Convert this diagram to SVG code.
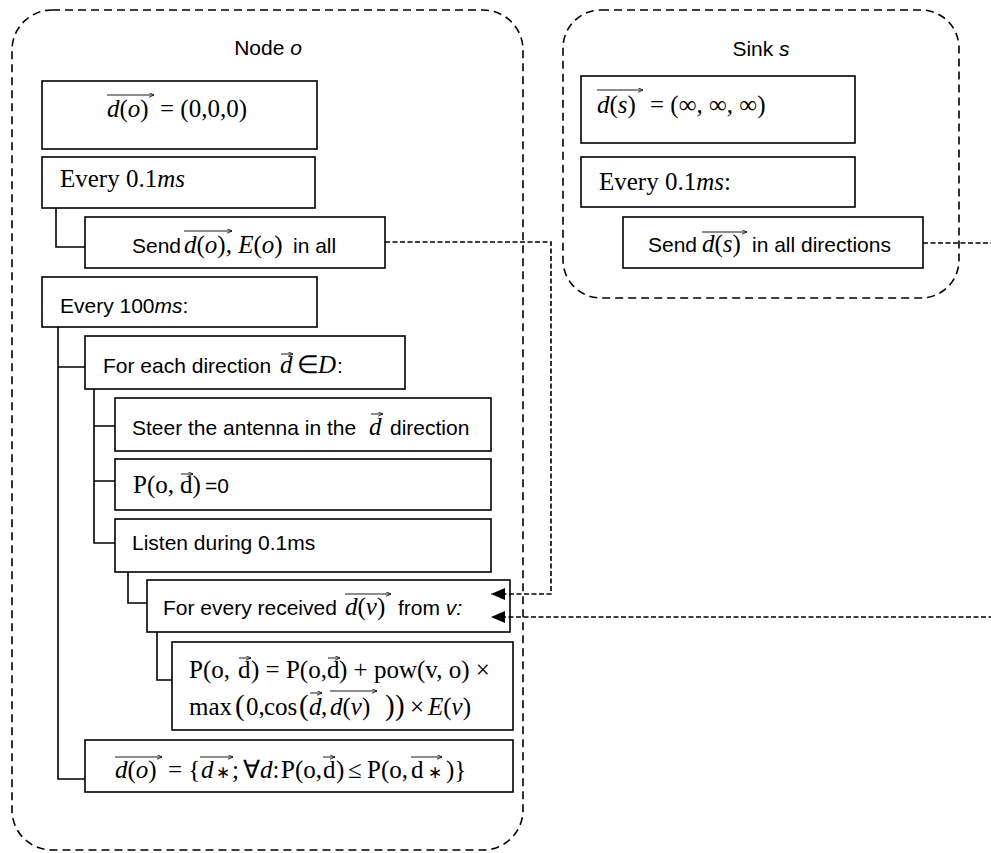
<svg xmlns="http://www.w3.org/2000/svg" width="991" height="853" viewBox="0 0 991 853">
<style>
.bg{fill:#fff}
.grp{fill:none;stroke:#000;stroke-width:1.6;stroke-dasharray:8 5}
.box{fill:#fff;stroke:#000;stroke-width:1.6}
.tree{fill:none;stroke:#000;stroke-width:1.6}
.flow{fill:none;stroke:#000;stroke-width:1.6;stroke-dasharray:5 2.5;marker-end:url(#ah)}
.s{font-family:"Liberation Sans",Arial,sans-serif;font-size:21px;fill:#000}
.m{font-family:"Liberation Serif","Times New Roman",serif;font-size:25px;fill:#000}
.i{font-style:italic}
.big{font-size:29px}
.ast{font-size:17px}
.vec{fill:none;stroke:#000;stroke-width:0.9;marker-end:url(#vh)}
</style>
<defs>
<marker id="ah" markerUnits="userSpaceOnUse" markerWidth="15" markerHeight="13" refX="14" refY="6" orient="auto">
<path d="M0,0 L14,6 L0,12 z" fill="#000"/>
</marker>
<marker id="vh" markerUnits="userSpaceOnUse" markerWidth="6" markerHeight="6" refX="5.5" refY="2.5" orient="auto">
<path d="M0,0 L5.5,2.5 L0,5" fill="none" stroke="#000" stroke-width="0.8"/>
</marker>
</defs>
<rect class="bg" x="0" y="0" width="991" height="853"/>

<g id="node-o-container">
<rect class="grp" x="12" y="10" width="511" height="840" rx="40" ry="40"/>
<text class="s" x="268" y="55" text-anchor="middle">Node <tspan class="i">o</tspan></text>
</g>
<g id="sink-s-container">
<rect class="grp" x="563" y="10" width="396" height="288" rx="38" ry="38"/>
<text class="s" x="761" y="56" text-anchor="middle">Sink <tspan class="i">s</tspan></text>
</g>

<g id="n1">
<rect class="box" x="42" y="81" width="275" height="68"/>
<text class="m" y="117"><tspan x="107" class="i">d</tspan>(<tspan class="i">o</tspan>)<tspan x="160">= (0,0,0)</tspan></text>
<path class="vec" d="M107,95 H154"/>
</g>
<g id="n2">
<rect class="box" x="42" y="157" width="273" height="51"/>
<text class="m" x="60" y="187">Every 0.1<tspan class="i">ms</tspan></text>
</g>
<g id="n3">
<rect class="box" x="85" y="217" width="300" height="51"/>
<text class="s" x="132" y="253">Send</text>
<text class="m" x="184" y="253"><tspan class="i">d</tspan>(<tspan class="i">o</tspan>), <tspan class="i">E</tspan>(<tspan class="i">o</tspan>)</text>
<text class="s" x="293" y="253">in all</text>
<path class="vec" d="M184,231 H232"/>
</g>
<g id="n4">
<rect class="box" x="42" y="277" width="275" height="50"/>
<text class="s" x="60" y="313">Every 100<tspan class="i">ms</tspan>:</text>
</g>
<g id="n5">
<rect class="box" x="85" y="336" width="320" height="53"/>
<text class="s" x="103" y="373">For each direction</text>
<text class="m" y="373"><tspan x="280" class="i">d</tspan><tspan x="297">∈</tspan><tspan x="318" class="i">D</tspan></text>
<text class="s" x="337" y="373">:</text>
<path class="vec" d="M281,354 H293"/>
</g>
<g id="n6">
<rect class="box" x="115" y="398" width="376" height="53"/>
<text class="s" x="132" y="435">Steer the antenna in the</text>
<text class="m i" x="369" y="435">d</text>
<text class="s" x="390" y="435">direction</text>
<path class="vec" d="M371,414 H383"/>
</g>
<g id="n7">
<rect class="box" x="115" y="459" width="376" height="51"/>
<text class="m" x="133" y="493">P(o, <tspan x="180">d</tspan>)</text>
<text class="s" x="205" y="493">=0</text>
<path class="vec" d="M181,474 H193"/>
</g>
<g id="n8">
<rect class="box" x="115" y="519" width="376" height="53"/>
<text class="s" x="132" y="550">Listen during 0.1ms</text>
</g>
<g id="n9">
<rect class="box" x="147" y="580" width="363" height="52"/>
<text class="s" x="163" y="615">For every received</text>
<text class="m" x="345" y="615"><tspan class="i">d</tspan>(<tspan class="i">v</tspan>)</text>
<text class="s" x="398" y="615">from <tspan class="i">v:</tspan></text>
<path class="vec" d="M345,594 H391"/>
</g>
<g id="n10">
<rect class="box" x="172" y="642" width="341" height="88"/>
<text class="m" y="678"><tspan x="189">P(o,</tspan><tspan x="238">d</tspan><tspan x="251">) = P(o,</tspan><tspan x="327">d</tspan><tspan x="339">) + pow(v, o) ×</tspan></text>
<path class="vec" d="M239,658 H251"/>
<path class="vec" d="M328,658 H340"/>
<text class="m" y="715"><tspan x="189">max</tspan><tspan x="235" class="big">(</tspan><tspan x="246">0,</tspan><tspan x="264">cos</tspan><tspan x="299" class="big">(</tspan><tspan x="309" class="i">d</tspan><tspan x="321">,</tspan><tspan x="330" class="i">d</tspan>(<tspan class="i">v</tspan>)<tspan x="385" class="big">)</tspan><tspan x="395" class="big">)</tspan><tspan x="410">×</tspan><tspan x="428" class="i">E</tspan>(<tspan class="i">v</tspan>)</text>
<path class="vec" d="M310,693 H322"/>
<path class="vec" d="M330,691 H377"/>
</g>
<g id="n11">
<rect class="box" x="85" y="740" width="428" height="52"/>
<text class="m" y="778"><tspan x="115" class="i">d</tspan>(<tspan class="i">o</tspan>)<tspan x="168">= {</tspan><tspan x="201" class="i">d</tspan><tspan x="216" class="ast">∗</tspan><tspan x="232">;</tspan><tspan x="243">∀</tspan><tspan class="i">d</tspan>:<tspan x="281">P(o,</tspan><tspan x="323">d</tspan><tspan x="336">)</tspan><tspan x="348">≤</tspan><tspan x="367">P(o,</tspan><tspan x="411">d</tspan><tspan x="428" class="ast">∗</tspan><tspan x="446">)}</tspan></text>
<path class="vec" d="M115,757 H162"/>
<path class="vec" d="M200,757 H233"/>
<path class="vec" d="M323,757 H335"/>
<path class="vec" d="M411,757 H442"/>
</g>

<g id="s1">
<rect class="box" x="581" y="76" width="274" height="67"/>
<text class="m" y="113"><tspan x="597" class="i">d</tspan>(<tspan class="i">s</tspan>)<tspan x="650">= (∞, ∞, ∞)</tspan></text>
<path class="vec" d="M597,90 H643"/>
</g>
<g id="s2">
<rect class="box" x="581" y="157" width="274" height="50"/>
<text class="m" x="599" y="190">Every 0.1<tspan class="i">ms</tspan>:</text>
</g>
<g id="s3">
<rect class="box" x="623" y="217" width="300" height="51"/>
<text class="s" x="648" y="252">Send</text>
<text class="m" x="702" y="252"><tspan class="i">d</tspan>(<tspan class="i">s</tspan>)</text>
<text class="s" x="752" y="252">in all directions</text>
<path class="vec" d="M702,232 H747"/>
</g>

<g id="connectors">
<path class="tree" d="M56,208 V247 H85"/>
<path class="tree" d="M58,327 V779 H85 M58,367 H85"/>
<path class="tree" d="M94,389 V543 H115 M94,426 H115 M94,481 H115"/>
<path class="tree" d="M128,572 V603 H147"/>
<path class="tree" d="M157,632 V680 H172"/>
<path class="flow" d="M385,242 H551 V594 H491"/>
<path class="flow" d="M923,243 H1000 V617 H491"/>
</g>
</svg>
